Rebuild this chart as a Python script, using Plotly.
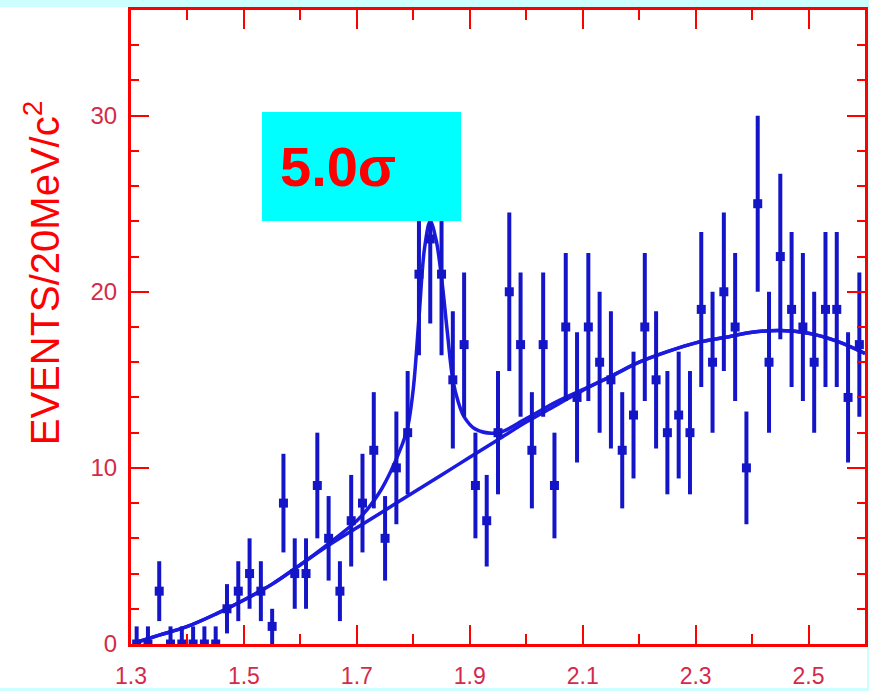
import plotly.graph_objects as go

# ---- data ----
mass = [1.31, 1.33, 1.35, 1.37, 1.39, 1.41, 1.43, 1.45, 1.47, 1.49,
        1.51, 1.53, 1.55, 1.57, 1.59, 1.61, 1.63, 1.65, 1.67, 1.69,
        1.71, 1.73, 1.75, 1.77, 1.79, 1.81, 1.83, 1.85, 1.87, 1.89,
        1.91, 1.93, 1.95, 1.97, 1.99, 2.01, 2.03, 2.05, 2.07, 2.09,
        2.11, 2.13, 2.15, 2.17, 2.19, 2.21, 2.23, 2.25, 2.27, 2.29,
        2.31, 2.33, 2.35, 2.37, 2.39, 2.41, 2.43, 2.45, 2.47, 2.49,
        2.51, 2.53, 2.55, 2.57, 2.59]

events = [0, 0, 3, 0, 0, 0, 0, 0, 2, 3,
          4, 3, 1, 8, 4, 4, 9, 6, 3, 7,
          8, 11, 6, 10, 12, 21, 23, 21, 15, 17,
          9, 7, 12, 20, 17, 11, 17, 9, 18, 14,
          18, 16, 15, 11, 13, 18, 15, 12, 13, 12,
          19, 16, 20, 18, 10, 25, 16, 22, 19, 18,
          16, 19, 19, 14, 17]

err_up = [1, 1, 1.7, 1, 1, 1, 1, 1, 1.4, 1.7,
          2, 1.7, 1, 2.8, 2, 2, 3, 2.4, 1.7, 2.6,
          2.8, 3.3, 2.4, 3.2, 3.5, 4.6, 4.8, 4.6, 3.9, 4.1,
          3, 2.6, 3.5, 4.5, 4.1, 3.3, 4.1, 3, 4.2, 3.7,
          4.2, 4, 3.9, 3.3, 3.6, 4.2, 3.9, 3.5, 3.6, 3.5,
          4.4, 4, 4.5, 4.2, 3.2, 5, 4, 4.7, 4.4, 4.2,
          4, 4.4, 4.4, 3.7, 4.1]

err_down = [0, 0, 1.7, 0, 0, 0, 0, 0, 1.4, 1.7,
            2, 1.7, 1, 2.8, 2, 2, 3, 2.4, 1.7, 2.6,
            2.8, 3.3, 2.4, 3.2, 3.5, 4.6, 4.8, 4.6, 3.9, 4.1,
            3, 2.6, 3.5, 4.5, 4.1, 3.3, 4.1, 3, 4.2, 3.7,
            4.2, 4, 3.9, 3.3, 3.6, 4.2, 3.9, 3.5, 3.6, 3.5,
            4.4, 4, 4.5, 4.2, 3.2, 5, 4, 4.7, 4.4, 4.2,
            4, 4.4, 4.4, 3.7, 4.1]

# background fit curve
bg_x = [1.31, 1.35, 1.40, 1.45, 1.50, 1.55, 1.60, 1.65, 1.70, 1.75, 1.80,
        1.85, 1.90, 1.95, 2.00, 2.05, 2.10, 2.15, 2.20, 2.25, 2.30, 2.35,
        2.40, 2.45, 2.50, 2.55, 2.60]
bg_y = [0.1, 0.5, 1.0, 1.7, 2.5, 3.4, 4.5, 5.6, 6.6, 7.6, 8.6,
        9.6, 10.6, 11.6, 12.6, 13.5, 14.4, 15.2, 16.0, 16.6, 17.1, 17.4,
        17.7, 17.8, 17.65, 17.2, 16.5]

# signal + background fit curve
tot_x = [1.31, 1.35, 1.40, 1.45, 1.50, 1.55, 1.60, 1.65, 1.70, 1.72, 1.74,
         1.76, 1.78, 1.79, 1.80, 1.81, 1.82, 1.83, 1.84, 1.85, 1.86, 1.87,
         1.88, 1.89, 1.91, 1.95, 2.00, 2.05, 2.10, 2.15, 2.20, 2.25, 2.30,
         2.35, 2.40, 2.45, 2.50, 2.55, 2.60]
tot_y = [0.1, 0.5, 1.0, 1.7, 2.5, 3.4, 4.5, 5.7, 7.0, 7.7, 8.6,
         9.8, 11.3, 12.3, 14.5, 18.5, 22.5, 24.0, 23.0, 20.8, 17.8, 15.0,
         13.7, 12.9, 12.2, 12.0, 12.8, 13.7, 14.45, 15.2, 16.0, 16.6, 17.1,
         17.4, 17.7, 17.8, 17.65, 17.2, 16.5]

x_ticks = [1.3, 1.5, 1.7, 1.9, 2.1, 2.3, 2.5]
x_ticklabels = ["1.3", "1.5", "1.7", "1.9", "2.1", "2.3", "2.5"]
y_ticks = [0, 10, 20, 30]
y_ticklabels = ["0", "10", "20", "30"]

BLUE = "#1a1ae0"
BAR = "#1515c8"
RED = "#ff0000"
LABEL = "#d42a4a"
FONT = "Liberation Sans"

fig = go.Figure()
fig.add_trace(go.Scatter(x=bg_x, y=bg_y, mode="lines",
                         line=dict(color=BLUE, width=3.5, shape="spline"),
                         hoverinfo="skip"))
fig.add_trace(go.Scatter(x=tot_x, y=tot_y, mode="lines",
                         line=dict(color=BLUE, width=3.5, shape="spline"),
                         hoverinfo="skip"))
fig.add_trace(go.Scatter(
    x=mass, y=events, mode="markers",
    marker=dict(symbol="square", size=9, color=BAR),
    error_y=dict(type="data", symmetric=False, array=err_up,
                 arrayminus=err_down, width=0, thickness=4, color=BAR)))

fig.update_layout(
    width=869, height=691,
    margin=dict(l=131, r=4, t=10, b=47),
    paper_bgcolor="#ccfdff",
    plot_bgcolor="white",
    showlegend=False,
    shapes=[
        dict(type="rect", xref="paper", yref="paper",
             x0=-0.1785, x1=1.0027, y0=-0.0694, y1=1.0047,
             fillcolor="white", line=dict(width=0), layer="below"),
        dict(type="rect", xref="paper", yref="paper",
             x0=0.1785, x1=0.4496, y0=0.6672, y1=0.8391,
             fillcolor="#00ffff", line=dict(width=0), layer="above"),
    ],
    annotations=[
        dict(text="5.0σ", xref="paper", yref="paper", x=0.2816, y=0.7524,
             xanchor="center", yanchor="middle", showarrow=False,
             font=dict(family=FONT, size=56, color=RED, weight="bold")),
        dict(text="EVENTS/20MeV/c<sup>2</sup>", xref="paper", yref="paper",
             x=-0.121, y=0.585, textangle=-90, xanchor="center",
             yanchor="middle", showarrow=False,
             font=dict(family=FONT, size=40, color=RED)),
    ],
)

fig.update_xaxes(
    range=[1.3, 2.6], tickvals=x_ticks, ticktext=x_ticklabels,
    ticks="inside", ticklen=19, tickwidth=2, tickcolor=RED,
    showline=True, linecolor=RED, linewidth=3, mirror="ticks",
    showgrid=False, zeroline=False, ticklabelstandoff=9, automargin=False,
    tickfont=dict(family=FONT, size=23, color=LABEL),
    minor=dict(tick0=1.3, dtick=0.1, ticks="inside", ticklen=10,
               tickwidth=2, tickcolor=RED, showgrid=False),
)
fig.update_yaxes(
    range=[0, 36], tickvals=y_ticks, ticktext=y_ticklabels,
    ticks="inside", ticklen=18, tickwidth=2, tickcolor=RED,
    showline=True, linecolor=RED, linewidth=3, mirror="ticks",
    showgrid=False, zeroline=False, ticklabelstandoff=6, automargin=False,
    tickfont=dict(family=FONT, size=24, color=LABEL),
    minor=dict(tick0=0, dtick=2, ticks="inside", ticklen=8,
               tickwidth=2, tickcolor=RED, showgrid=False),
)

fig.write_html("out.html")
